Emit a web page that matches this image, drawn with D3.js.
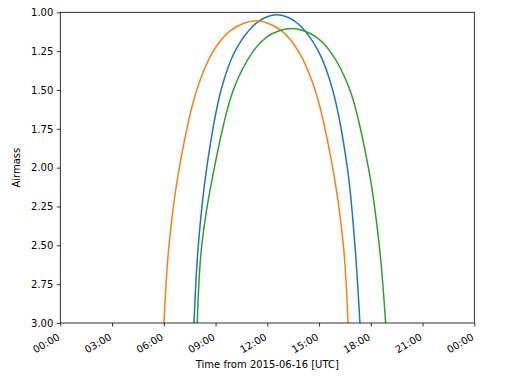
<!DOCTYPE html>
<html>
  <head>
    <meta charset="UTF-8" />
    <title>Airmass</title>
    <style>
      body { margin: 0; background: #fff; overflow: hidden; }
      svg { display: block; }
      svg text { font-family: 'DejaVu Sans', sans-serif; font-size: 10px; fill: #000; }
    </style>
  </head>
  <body>
    <svg width="512" height="384"></svg>
    <script src="https://cdnjs.cloudflare.com/ajax/libs/d3/7.8.5/d3.min.js"></script>
    <script>
      // hours after 2015-06-16 00:00 UTC, airmass
      const blueHours = [7.75, 8.0, 8.49, 9.32, 10.13, 11.2, 11.85, 12.55, 13.25, 13.9, 14.96, 15.79, 16.64, 17.08, 17.37];
      const blueAirmass = [3.0, 2.5, 2.0, 1.5, 1.25, 1.085, 1.035, 1.015, 1.035, 1.085, 1.25, 1.5, 2.0, 2.5, 3.0];

      const orangeHours = [6.01, 6.3, 6.9, 7.91, 8.87, 9.84, 10.64, 11.34, 12.04, 12.84, 13.8, 14.77, 15.79, 16.41, 16.68];
      const orangeAirmass = [3.0, 2.5, 2.0, 1.5, 1.25, 1.12, 1.07, 1.054, 1.07, 1.12, 1.25, 1.5, 2.0, 2.5, 3.0];

      const greenHours = [7.94, 8.2, 8.93, 10.03, 11.19, 12.0, 12.7, 13.4, 14.1, 14.8, 15.63, 16.79, 17.86, 18.49, 18.86];
      const greenAirmass = [3.0, 2.5, 2.0, 1.5, 1.25, 1.157, 1.119, 1.105, 1.119, 1.157, 1.25, 1.5, 2.0, 2.5, 3.0];

      const xTicks = [0, 3, 6, 9, 12, 15, 18, 21, 24];
      const xTickLabels = ['00:00', '03:00', '06:00', '09:00', '12:00', '15:00', '18:00', '21:00', '00:00'];
      const yTicks = [1.0, 1.25, 1.5, 1.75, 2.0, 2.25, 2.5, 2.75, 3.0];

      const series = [
        { hours: blueHours, airmass: blueAirmass, color: '#1f77b4' },
        { hours: orangeHours, airmass: orangeAirmass, color: '#ff7f0e' },
        { hours: greenHours, airmass: greenAirmass, color: '#2ca02c' },
      ];

      const svg = d3.select('svg');
      const margin = { top: 12.3, right: 37.7, bottom: 61, left: 60.3 };
      const innerWidth = +svg.attr('width') - margin.left - margin.right;
      const innerHeight = +svg.attr('height') - margin.top - margin.bottom;

      const xScale = d3.scaleLinear().domain([0, 24]).range([0, innerWidth]);
      const yScale = d3.scaleLinear().domain([1, 3]).range([0, innerHeight]);

      const g = svg
        .append('g')
        .attr('transform', `translate(${margin.left},${margin.top})`);

      g.append('clipPath')
        .attr('id', 'clip')
        .append('rect')
        .attr('width', innerWidth)
        .attr('height', innerHeight);

      const line = d3
        .line()
        .x((d) => xScale(d[0]))
        .y((d) => yScale(d[1]))
        .curve(d3.curveCatmullRom.alpha(0.5));

      g.append('g')
        .attr('clip-path', 'url(#clip)')
        .selectAll('path')
        .data(series)
        .enter()
        .append('path')
        .attr('d', (s) => line(d3.zip(s.hours, s.airmass)))
        .attr('fill', 'none')
        .attr('stroke', (s) => s.color)
        .attr('stroke-width', 1.5);

      const xAxisG = g
        .append('g')
        .attr('transform', `translate(0,${innerHeight})`)
        .call(
          d3.axisBottom(xScale)
            .tickValues(xTicks)
            .tickSize(3.5)
            .tickFormat((d, i) => xTickLabels[i])
        );
      xAxisG.select('.domain').remove();
      // rotated labels, top-right corner at the tick like autofmt_xdate
      xAxisG.selectAll('text')
        .attr('text-anchor', 'end')
        .attr('dy', null)
        .attr('x', -4)
        .attr('y', 17)
        .attr('transform', 'rotate(-30, -4, 9.5)');

      const yAxisG = g
        .append('g')
        .call(
          d3.axisLeft(yScale)
            .tickValues(yTicks)
            .tickSize(3.5)
            .tickPadding(3.5)
            .tickFormat(d3.format('.2f'))
        );
      yAxisG.select('.domain').remove();

      g.selectAll('.tick line').attr('stroke', '#000').attr('stroke-width', 0.8);
      g.selectAll('.tick text').style('font-size', '10px').attr('fill', '#000');

      g.append('rect')
        .attr('width', innerWidth)
        .attr('height', innerHeight)
        .attr('fill', 'none')
        .attr('stroke', '#000')
        .attr('stroke-width', 0.8);

      g.append('text')
        .attr('x', innerWidth / 2)
        .attr('y', innerHeight + 45)
        .attr('text-anchor', 'middle')
        .text('Time from 2015-06-16 [UTC]');

      g.append('text')
        .attr('transform', `translate(-40,${innerHeight / 2}) rotate(-90)`)
        .attr('text-anchor', 'middle')
        .text('Airmass');
    </script>
  </body>
</html>
